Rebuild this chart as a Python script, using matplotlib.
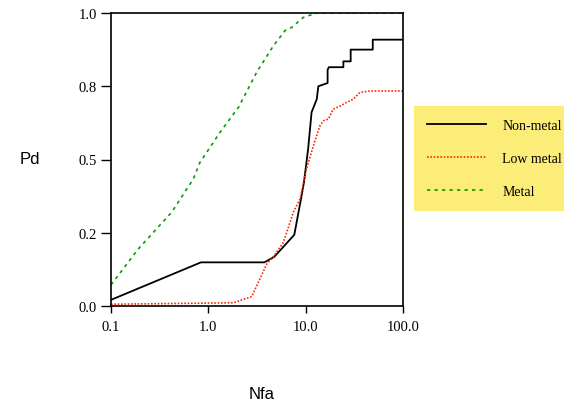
import matplotlib
matplotlib.use("Agg")
import matplotlib.pyplot as plt
from matplotlib.lines import Line2D

# Non-metal (black solid)
nm_x = [0.1, 0.84, 3.77, 4.76, 7.64, 8.95, 9.6, 10.6, 11.5, 13.0, 13.5, 16.8, 16.8, 17.3,
        24.4, 24.4, 29.0, 29.0, 48.9, 48.9, 100.0]
nm_y = [0.021, 0.149, 0.149, 0.168, 0.243, 0.365, 0.422, 0.536, 0.661, 0.706, 0.750, 0.761,
        0.806, 0.815, 0.815, 0.835, 0.835, 0.875, 0.875, 0.909, 0.909]

# Low metal (red dotted)
lm_x = [0.1, 1.81, 2.79, 3.98, 4.76, 5.9, 7.47, 8.75, 10.2, 12.0, 14.0, 15.2, 17.1, 19.2,
        22.5, 26.4, 30.9, 33.4, 36.1, 45.8, 100.0]
lm_y = [0.006, 0.011, 0.032, 0.143, 0.172, 0.217, 0.320, 0.365, 0.468, 0.547, 0.615, 0.632,
        0.638, 0.672, 0.682, 0.695, 0.706, 0.718, 0.729, 0.734, 0.734]

# Metal (green dashed)
mt_x = [0.1, 0.191, 0.42, 0.70, 0.82, 1.32, 2.04, 3.14, 4.66, 6.14, 7.2, 9.46, 13.0, 100.0]
mt_y = [0.072, 0.195, 0.320, 0.433, 0.490, 0.593, 0.678, 0.798, 0.888, 0.940, 0.951,
        0.985, 1.0, 1.0]

x_ticks = [0.1, 1.0, 10.0, 100.0]
x_labels = ["0.1", "1.0", "10.0", "100.0"]
y_ticks = [0.0, 0.25, 0.5, 0.75, 1.0]
y_labels = ["0.0", "0.2", "0.5", "0.8", "1.0"]

serif = "Liberation Serif"
sans = "Liberation Sans"

fig = plt.figure(figsize=(5.64, 4.06), dpi=100)
ax = fig.add_axes([111 / 564, 1 - 307 / 406, 292 / 564, 293 / 406])

ax.plot(nm_x, nm_y, color="black", lw=1.3, label="Non-metal")
ax.plot(lm_x, lm_y, color="#ff2a00", lw=1.2, linestyle=(0, (1, 1)), label="Low metal")
ax.plot(mt_x, mt_y, color="#0a9a0a", lw=1.2, linestyle=(0, (2, 2.5)), label="Metal")

ax.set_xscale("log")
ax.set_xlim(0.1, 100)
ax.set_ylim(0, 1)
ax.set_xticks(x_ticks)
ax.set_xticklabels(x_labels, fontfamily=serif, fontsize=10.5)
ax.minorticks_off()
ax.set_yticks(y_ticks)
ax.set_yticklabels(y_labels, fontfamily=serif, fontsize=10.5)
ax.tick_params(axis="y", direction="out", length=7, width=1, pad=3)
ax.tick_params(axis="x", direction="out", length=5, width=1, pad=5)
for s in ax.spines.values():
    s.set_linewidth(1.2)

fig.text(30 / 564, 1 - 160 / 406, "Pd", fontfamily=sans, fontsize=12, ha="center", va="center")
fig.text(262 / 564, 1 - 395 / 406, "Nfa", fontfamily=sans, fontsize=12, ha="center", va="center")

handles = [Line2D([], [], color="black", lw=1.3),
           Line2D([], [], color="#ff2a00", lw=1.2, linestyle=(0, (1, 1))),
           Line2D([], [], color="#0a9a0a", lw=1.2, linestyle=(0, (2, 2.5)))]
leg = fig.legend(handles, ["Non-metal", "Low metal", "Metal"],
                 loc="upper left", bbox_to_anchor=(414 / 564, 1 - 107 / 406),
                 prop={"family": serif, "size": 10}, frameon=True, fancybox=False,
                 handlelength=4.2, handletextpad=1.2, labelspacing=1.42,
                 borderpad=0.95, borderaxespad=0)
leg.get_frame().set_facecolor("#fcec78")
leg.get_frame().set_edgecolor("none")
leg.get_frame().set_alpha(1)

fig.savefig("out.png", dpi=100)
